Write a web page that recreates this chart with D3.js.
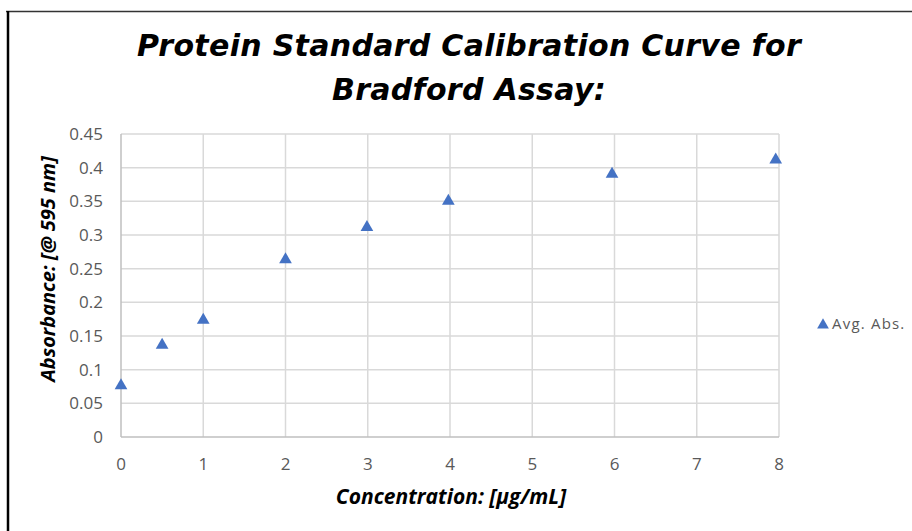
<!DOCTYPE html>
<html>
<head>
<meta charset="utf-8">
<script src="https://cdn.jsdelivr.net/npm/d3@7"></script>
<style>
  body { margin: 0; background: #fff; }
  svg { display: block; }
</style>
</head>
<body>
<svg id="chart" width="912" height="531"></svg>
<script>
// values
const concentration = [0, 0.5, 1, 2, 2.99, 3.98, 5.97, 7.96];
const avgAbs = [0.078, 0.138, 0.175, 0.265, 0.313, 0.352, 0.392, 0.413];
const xTicks = [0, 1, 2, 3, 4, 5, 6, 7, 8];
const yTicks = [0, 0.05, 0.1, 0.15, 0.2, 0.25, 0.3, 0.35, 0.4, 0.45];
const titleLines = ["Protein Standard Calibration Curve for", "Bradford Assay:"];
const seriesName = "Avg. Abs.";

const svg = d3.select("#chart");
const blue = "#4472C4";
const labelFont = "'Open Sans', 'Liberation Sans', sans-serif";

// outer frame (only top and left edge visible in the reference)
svg.append("line").attr("x1", 6).attr("x2", 912).attr("y1", 11.5).attr("y2", 11.5)
  .attr("stroke", "#333").attr("stroke-width", 1.5);
svg.append("line").attr("x1", 8).attr("x2", 8).attr("y1", 11).attr("y2", 531)
  .attr("stroke", "#000").attr("stroke-width", 2.5);

const x = d3.scaleLinear().domain([0, 8]).range([121, 779]);
const y = d3.scaleLinear().domain([0, 0.45]).range([437, 134]);

// gridlines
svg.append("g").selectAll("line").data(yTicks.slice(1)).join("line")
  .attr("x1", x(0)).attr("x2", x(8))
  .attr("y1", d => y(d)).attr("y2", d => y(d))
  .attr("stroke", "#d9d9d9").attr("stroke-width", 1.5);
svg.append("g").selectAll("line").data(xTicks.slice(1)).join("line")
  .attr("x1", d => x(d)).attr("x2", d => x(d))
  .attr("y1", y(0)).attr("y2", y(0.45))
  .attr("stroke", "#d9d9d9").attr("stroke-width", 1.5);

// axis lines
svg.append("line").attr("x1", x(0)).attr("x2", x(0)).attr("y1", y(0)).attr("y2", y(0.45))
  .attr("stroke", "#bfbfbf").attr("stroke-width", 1.5);
svg.append("line").attr("x1", x(0)).attr("x2", x(8)).attr("y1", y(0)).attr("y2", y(0))
  .attr("stroke", "#bfbfbf").attr("stroke-width", 1.5);

// tick labels
svg.append("g").selectAll("text").data(yTicks).join("text")
  .attr("x", 103).attr("y", d => y(d)).attr("dy", "0.35em")
  .attr("text-anchor", "end")
  .style("font-family", labelFont).style("font-size", "17px").style("fill", "#595959")
  .text(d => d3.format("")(+d.toFixed(2)));
svg.append("g").selectAll("text").data(xTicks).join("text")
  .attr("x", d => x(d)).attr("y", 464).attr("dy", "0.35em")
  .attr("text-anchor", "middle")
  .style("font-family", labelFont).style("font-size", "17px").style("fill", "#595959")
  .text(d => d);

// markers
const tri = d3.symbol().type(d3.symbolTriangle).size(70);
svg.append("g").selectAll("path").data(concentration).join("path")
  .attr("d", tri)
  .attr("transform", (d, i) => `translate(${x(d)},${y(avgAbs[i]) + 1})`)
  .attr("fill", blue);

// title
svg.append("g").selectAll("text").data(titleLines).join("text")
  .attr("x", 469).attr("y", (d, i) => 56 + i * 44)
  .attr("text-anchor", "middle")
  .style("font-family", "'DejaVu Sans', sans-serif")
  .style("font-weight", "bold").style("font-style", "italic")
  .style("font-size", "30px").style("letter-spacing", "0.3px").style("fill", "#000")
  .text(d => d);

// axis titles
svg.append("text")
  .attr("transform", "translate(55,269) rotate(-90)")
  .attr("text-anchor", "middle")
  .style("font-family", labelFont).style("font-weight", "bold").style("font-style", "italic")
  .style("font-size", "20px").style("fill", "#000")
  .text("Absorbance: [@ 595 nm]");
svg.append("text")
  .attr("x", 451).attr("y", 504)
  .attr("text-anchor", "middle")
  .style("font-family", labelFont).style("font-weight", "bold").style("font-style", "italic")
  .style("font-size", "21px").style("fill", "#000")
  .text("Concentration: [µg/mL]");

// legend
svg.append("path").attr("d", d3.symbol().type(d3.symbolTriangle).size(60))
  .attr("transform", "translate(823,325)").attr("fill", blue);
svg.append("text").attr("x", 832).attr("y", 324).attr("dy", "0.35em")
  .style("font-family", labelFont).style("font-size", "15px").style("letter-spacing", "1.2px")
  .style("fill", "#595959")
  .text(seriesName);
</script>
</body>
</html>
